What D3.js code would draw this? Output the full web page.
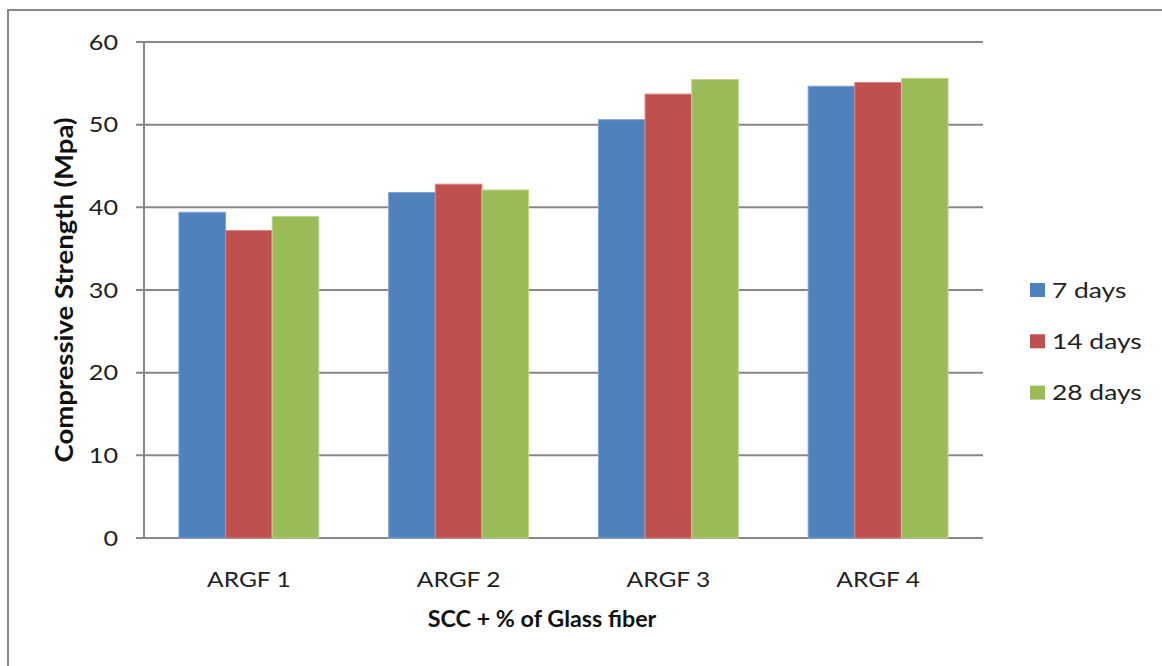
<!DOCTYPE html>
<html>
<head>
<meta charset="utf-8">
<script src="https://cdn.jsdelivr.net/npm/d3@7"></script>
<style>
  body { margin: 0; background: #fff; }
  svg { display: block; font-family: Lato, "Open Sans", sans-serif; }
</style>
</head>
<body>
<svg id="chart" width="1162" height="666"></svg>
<script>
// data
const categories = ['ARGF 1', 'ARGF 2', 'ARGF 3', 'ARGF 4'];
const seriesNames = ['7 days', '14 days', '28 days'];
const days7 = [39.4, 41.8, 50.6, 54.65];
const days14 = [37.2, 42.8, 53.7, 55.1];
const days28 = [38.9, 42.1, 55.45, 55.6];
const yTicks = [0, 10, 20, 30, 40, 50, 60];
const colors = ['#4F81BD', '#C0504D', '#9BBB59'];
const edges = ['#7fa3d3', '#d98582', '#bcd58c'];

const svg = d3.select('#chart');
const margin = {t: 42, r: 179, b: 128, l: 144};
const width = 1162, height = 666;

// the original text looks a bit stretched sideways, so scale it
function label(g, px, py, sx, size, txt, anchor, weight) {
    return g.append('text')
        .attr('transform', `translate(${px},${py}) scale(${sx},1)`)
        .attr('text-anchor', anchor)
        .attr('font-size', size)
        .attr('font-weight', weight || 'normal')
        .attr('fill', weight ? '#111' : '#222')
        .text(txt);
}

// outer frame of the chart
svg.append('rect')
    .attr('x', 8).attr('y', 10)
    .attr('width', 1170).attr('height', 680)
    .attr('fill', 'none')
    .attr('stroke', '#878787')
    .attr('stroke-width', 2);

const x = d3.scaleBand()
    .domain(categories)
    .range([margin.l, width - margin.r])
    .paddingInner(0.333)
    .paddingOuter(0.1665);

const x1 = d3.scaleBand()
    .domain(seriesNames)
    .range([0, x.bandwidth()]);

const y = d3.scaleLinear()
    .domain([0, 60])
    .range([height - margin.b, margin.t]);

// gridlines
svg.append('g')
    .selectAll('line')
    .data(yTicks)
    .join('line')
    .attr('x1', margin.l - 8)
    .attr('x2', width - margin.r)
    .attr('y1', d => y(d))
    .attr('y2', d => y(d))
    .attr('stroke', '#888')
    .attr('stroke-width', 2);

// bars
const rows = categories.map((c, i) => ({cat: c, vals: [days7[i], days14[i], days28[i]]}));

svg.append('g')
    .selectAll('g')
    .data(rows)
    .join('g')
    .attr('transform', d => `translate(${x(d.cat)},0)`)
    .selectAll('rect')
    .data(d => d.vals.map((v, j) => ({name: seriesNames[j], v: v, j: j})))
    .join('rect')
    .attr('x', d => x1(d.name))
    .attr('y', d => y(d.v))
    .attr('width', x1.bandwidth())
    .attr('height', d => y(0) - y(d.v))
    .attr('fill', d => colors[d.j])
    .attr('stroke', d => edges[d.j])
    .attr('stroke-width', 1);

// y axis line
svg.append('line')
    .attr('x1', margin.l).attr('x2', margin.l)
    .attr('y1', y(60)).attr('y2', y(0))
    .attr('stroke', '#888')
    .attr('stroke-width', 2);

// y tick labels
const yLab = svg.append('g');
yTicks.forEach(t => label(yLab, 118, y(t) + 7.5, 1.2, 21, t, 'end'));

// x tick labels
const xLab = svg.append('g');
categories.forEach(c => label(xLab, x(c) + x.bandwidth() / 2, 587, 1.17, 21, c, 'middle'));

// axis titles
label(svg, 542, 627, 1.06, 22, 'SCC + % of Glass fiber', 'middle', 'bold');

svg.append('text')
    .attr('transform', 'translate(73,290) rotate(-90) scale(1.1,1)')
    .attr('text-anchor', 'middle')
    .attr('font-size', 25)
    .attr('font-weight', 'bold')
    .attr('fill', '#111')
    .text('Compressive Strength (Mpa)');

// legend
const legend = svg.append('g')
    .selectAll('g')
    .data(seriesNames)
    .join('g')
    .attr('transform', (d, i) => `translate(1030,${283 + i * 51.3})`);

legend.append('rect')
    .attr('width', 15).attr('height', 14)
    .attr('fill', (d, i) => colors[i]);

legend.each(function(d) {
    label(d3.select(this), 22, 14.5, 1.2, 22, d, 'start');
});
</script>
</body>
</html>
